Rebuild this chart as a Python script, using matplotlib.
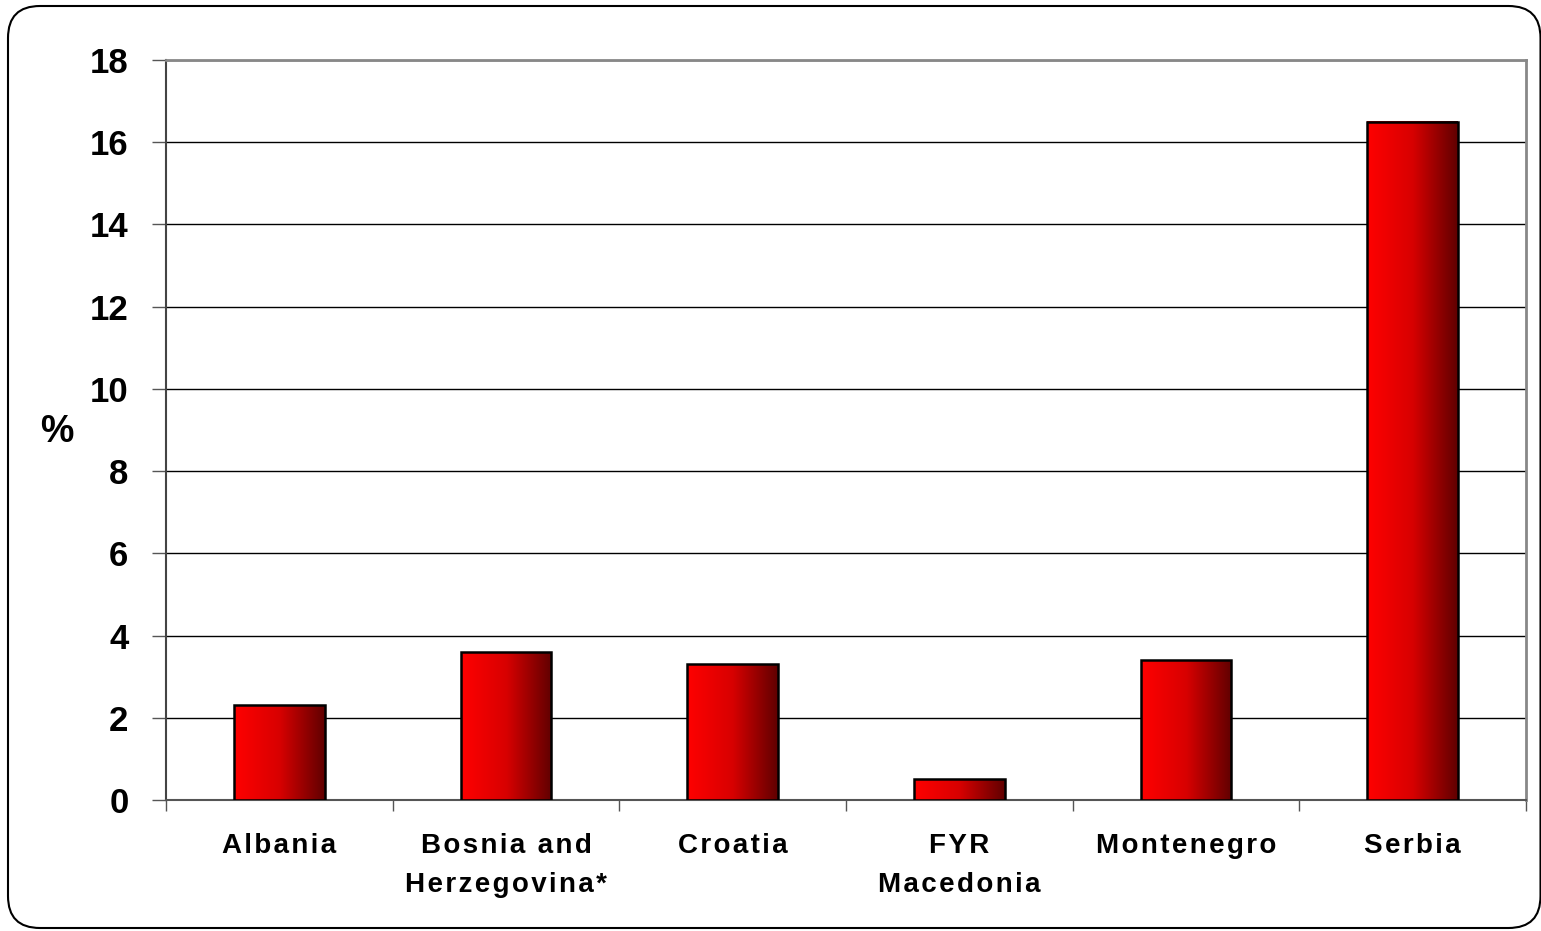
import numpy as np
import matplotlib.pyplot as plt
from matplotlib.colors import LinearSegmentedColormap
from matplotlib.patches import FancyBboxPatch

countries = ['Albania', 'Bosnia and\nHerzegovina*', 'Croatia', 'FYR\nMacedonia',
             'Montenegro', 'Serbia']
values = [2.3, 3.6, 3.3, 0.5, 3.4, 16.5]
yticks = [0, 2, 4, 6, 8, 10, 12, 14, 16, 18]

plt.rcParams['font.family'] = ['Liberation Sans', 'DejaVu Sans']
plt.rcParams['font.weight'] = 'bold'


def spaced(s):
    # widen the letter spacing a little with hair spaces
    return '\n'.join('\u200a'.join(line) for line in s.split('\n'))


fig = plt.figure(figsize=(15.41, 9.31), dpi=100)
ax = fig.add_axes([166 / 1541, 1 - 800 / 931, 1360 / 1541, 740 / 931])

# rounded frame around the whole chart (inches, so corners stay circular)
frame = FancyBboxPatch((0.08, 0.03), 15.325, 9.22,
                       boxstyle='round,pad=0,rounding_size=0.32',
                       transform=fig.dpi_scale_trans, fill=False,
                       edgecolor='black', linewidth=1.5)
fig.patches.append(frame)

red_grad = LinearSegmentedColormap.from_list('redgrad', ['#ff0000', '#d80000', '#600000'])
grad = np.linspace(0, 1, 256).reshape(1, -1)

x = np.arange(len(countries))
width = 0.4
bars = ax.bar(x, values, width=width, color='none', edgecolor='black',
              linewidth=1.8, zorder=4)
for b in bars:
    x0, y0 = b.get_x(), b.get_y()
    ax.imshow(grad, cmap=red_grad, aspect='auto', zorder=3,
              extent=[x0, x0 + b.get_width(), y0, y0 + b.get_height()])

ax.set_xlim(-0.5, len(countries) - 0.5)
ax.set_ylim(0, 18)
ax.set_yticks(yticks)
ax.set_yticklabels([str(t) for t in yticks], fontsize=25, fontweight='bold')
ax.yaxis.grid(True, color='black', linewidth=1)
ax.set_axisbelow(True)

# category labels between boundary ticks
ax.set_xticks(np.arange(len(countries) + 1) - 0.5)
ax.set_xticklabels([])
ax.set_xticks(x, minor=True)
ax.set_xticklabels([spaced(c) for c in countries], minor=True, fontsize=20,
                   fontweight='bold', linespacing=1.65)
ax.tick_params(axis='x', which='minor', length=0, pad=24)
ax.tick_params(axis='x', which='major', length=8, width=1, color='#555555')
ax.tick_params(axis='y', length=10, width=1, pad=17, color='#555555')

for side in ['top', 'right']:
    ax.spines[side].set_color('#888888')
    ax.spines[side].set_linewidth(2)
ax.spines['left'].set_color('#444444')
ax.spines['bottom'].set_color('#555555')
ax.spines['left'].set_linewidth(1.5)
ax.spines['bottom'].set_linewidth(1.5)

ax.set_ylabel('%', fontsize=27, fontweight='bold', rotation=0, va='center',
              ha='center')
ax.yaxis.set_label_coords(-0.08, 0.5 - 2 / 740)

fig.savefig('out.png', dpi=100)
